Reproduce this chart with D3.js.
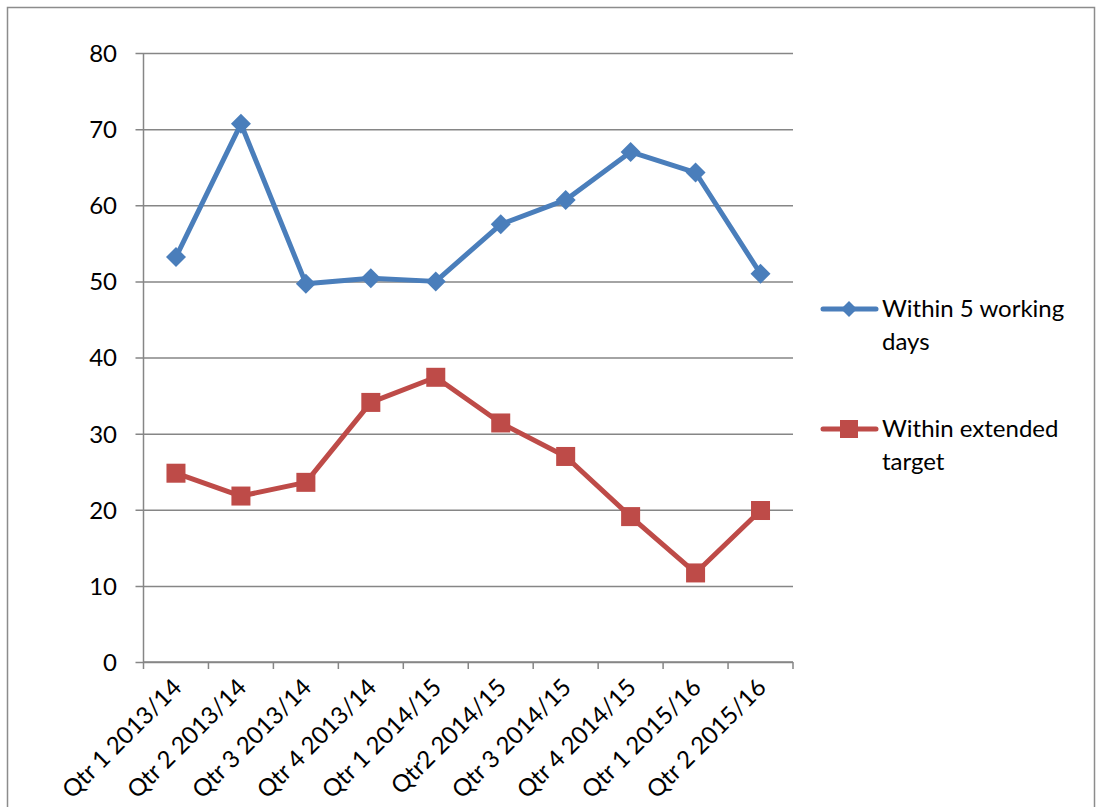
<!DOCTYPE html>
<html>
<head>
<meta charset="utf-8">
<script src="https://cdn.jsdelivr.net/npm/d3@7"></script>
<style>
  html, body { margin: 0; padding: 0; background: #fff; }
  svg { display: block; }
  text { font-family: Lato, "Open Sans", sans-serif; fill: #000; }
</style>
</head>
<body>
<svg id="chart" width="1096" height="807"></svg>
<script>
// Quarterly categories
const categories = [
  "Qtr 1 2013/14", "Qtr 2 2013/14", "Qtr 3 2013/14", "Qtr 4 2013/14",
  "Qtr 1 2014/15", "Qtr2 2014/15", "Qtr 3 2014/15", "Qtr 4 2014/15",
  "Qtr 1 2015/16", "Qtr 2 2015/16"
];

// Percentages per quarter
const within5Days = [53.2, 70.7, 49.7, 50.4, 50.0, 57.5, 60.7, 67.0, 64.3, 51.0];
const withinExtended = [24.8, 21.8, 23.6, 34.1, 37.4, 31.4, 27.0, 19.1, 11.7, 19.9];

const yTicks = [0, 10, 20, 30, 40, 50, 60, 70, 80];

const seriesNames = ["Within 5 working days", "Within extended target"];
const legendLines = [["Within 5 working", "days"], ["Within extended", "target"]];

const svg = d3.select("#chart");
const plot = { left: 143.5, right: 793, top: 53, bottom: 662 };
const fontSize = "24px";

const gridColor = "#868686";
const blue = "#4A7EBB";
const red = "#BE4B48";

// outer frame
svg.append("rect")
  .attr("x", 7.5).attr("y", 7.5)
  .attr("width", 1087).attr("height", 820)
  .attr("fill", "none").attr("stroke", "#8c8c8c").attr("stroke-width", 1.5);

const x = d3.scaleBand().domain(categories).range([plot.left, plot.right]).padding(0);
const y = d3.scaleLinear().domain([0, 80]).range([plot.bottom, plot.top]);

// horizontal gridlines with outward tick stubs
const yAxis = d3.axisLeft(y).tickValues(yTicks).tickSize(plot.right - plot.left + 8).tickPadding(0).tickFormat(d3.format("d"));
const gy = svg.append("g")
  .attr("transform", `translate(${plot.right},0)`)
  .call(yAxis);
gy.select(".domain").remove();
gy.selectAll(".tick line").attr("stroke", gridColor).attr("stroke-width", 1.5);
gy.selectAll(".tick text")
  .attr("x", -(plot.right - 117))
  .attr("dy", "0.35em")
  .attr("text-anchor", "end")
  .style("font-size", fontSize)
  .style("font-family", "Lato, sans-serif")
  .attr("fill", "#000");

// vertical axis line
svg.append("line")
  .attr("x1", plot.left).attr("x2", plot.left)
  .attr("y1", plot.top).attr("y2", plot.bottom)
  .attr("stroke", gridColor).attr("stroke-width", 1.5);

// category axis with boundary ticks
const gx = svg.append("g").attr("transform", `translate(0,${plot.bottom})`);
gx.append("line")
  .attr("x1", plot.left).attr("x2", plot.right)
  .attr("stroke", gridColor).attr("stroke-width", 1.5);
const boundaries = categories.map(c => x(c)).concat([plot.right]);
gx.selectAll("line.tk").data(boundaries).join("line")
  .attr("class", "tk")
  .attr("x1", d => d).attr("x2", d => d)
  .attr("y1", 0).attr("y2", 7)
  .attr("stroke", gridColor).attr("stroke-width", 1.5);

gx.selectAll("text.cat").data(categories).join("text")
  .attr("class", "cat")
  .attr("text-anchor", "end")
  .attr("transform", d => `translate(${x(d) + x.bandwidth() / 2 + 7},${27}) rotate(-45)`)
  .style("font-size", fontSize)
  .text(d => d);

const cx = d => x(d) + x.bandwidth() / 2;
const line = d3.line().x((d, i) => cx(categories[i])).y(d => y(d));

// Series 1: blue line with diamonds
svg.append("path").datum(within5Days)
  .attr("d", line).attr("fill", "none")
  .attr("stroke", blue).attr("stroke-width", 5).attr("stroke-linejoin", "round");
const diamond = s => `M0,${-s}L${s},0L0,${s}L${-s},0Z`;
svg.selectAll("path.dia").data(within5Days).join("path")
  .attr("class", "dia")
  .attr("transform", (d, i) => `translate(${cx(categories[i])},${y(d)})`)
  .attr("d", diamond(10))
  .attr("fill", blue);

// Series 2: red line with squares
svg.append("path").datum(withinExtended)
  .attr("d", line).attr("fill", "none")
  .attr("stroke", red).attr("stroke-width", 5).attr("stroke-linejoin", "round");
svg.selectAll("rect.sq").data(withinExtended).join("rect")
  .attr("class", "sq")
  .attr("x", (d, i) => cx(categories[i]) - 9.5)
  .attr("y", d => y(d) - 9.5)
  .attr("width", 19).attr("height", 19)
  .attr("fill", red);

// Legend
const legendY = [309, 429];
const legend = svg.selectAll("g.lg").data(seriesNames).join("g")
  .attr("class", "lg")
  .attr("transform", (d, i) => `translate(0,${legendY[i]})`);
legend.append("line")
  .attr("x1", 823).attr("x2", 876)
  .attr("stroke", (d, i) => i === 0 ? blue : red)
  .attr("stroke-width", 5).attr("stroke-linecap", "round");
legend.each(function (d, i) {
  const g = d3.select(this);
  if (i === 0) {
    g.append("path").attr("transform", "translate(849,0)").attr("d", diamond(8)).attr("fill", blue);
  } else {
    g.append("rect").attr("x", 840).attr("y", -9).attr("width", 18).attr("height", 18).attr("fill", red);
  }
  const t = g.append("text").attr("x", 882).attr("y", 0).style("font-size", fontSize);
  legendLines[i].forEach((ln, k) => {
    t.append("tspan").attr("x", 882).attr("dy", k === 0 ? "0.35em" : "33px").text(ln);
  });
});
</script>
</body>
</html>
